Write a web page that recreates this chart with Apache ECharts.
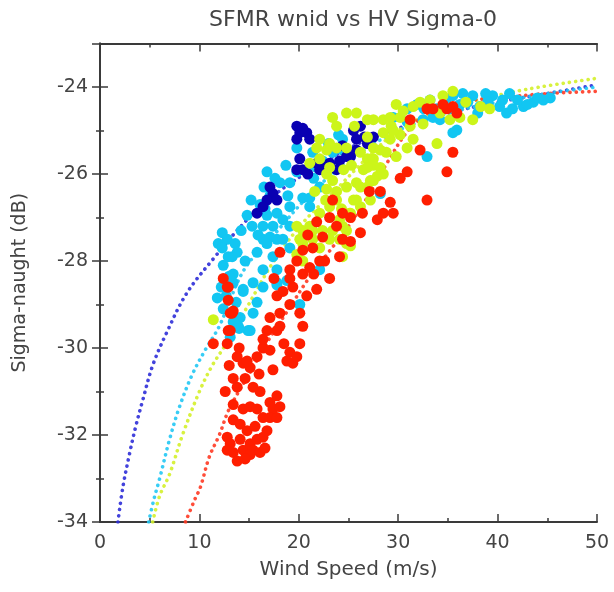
<!DOCTYPE html>
<html><head><meta charset="utf-8">
<script src="https://cdn.jsdelivr.net/npm/echarts@6/dist/echarts.min.js"></script>
<style>html,body{margin:0;padding:0;background:#fff}#c{width:614px;height:592px}</style>
</head><body><div id="c"></div>
<script>
var titleText = 'SFMR wnid vs HV Sigma-0';
var xName = 'Wind Speed (m/s)';
var yName = 'Sigma-naught (dB)';

// Model curves: [wind speed, sigma0]
var blueCurve = [[1.8,-34],[2.3,-33.2],[3.0,-32.4],[3.6,-31.8],[4.3,-31.2],[5.3,-30.4],[6.7,-29.65],[8.7,-28.75],[11.4,-27.95],[14.8,-27.05],[18,-26.4],[22,-25.8],[26,-25.3],[30,-24.95],[35,-24.6],[40,-24.35],[45,-24.15],[50,-23.95]];
var cyanCurve = [[4.9,-34],[5.4,-33.5],[6.0,-33.0],[7.0,-32.1],[8.0,-31.35],[9.3,-30.6],[10.7,-30.0],[12.0,-29.5],[14.5,-28.2],[17.5,-27.4],[21,-26.5],[25,-25.7],[30,-25.0],[35,-24.6],[40,-24.35],[45,-24.15],[50,-24.0]];
var yellowCurve = [[5.3,-34],[6.0,-33.4],[7.0,-32.9],[8.3,-32.0],[10,-31.0],[11.3,-30.4],[12.7,-29.9],[14.7,-29.1],[17.5,-28.0],[20.5,-27.1],[24,-26.3],[27,-25.6],[30,-25.0],[34,-24.55],[38,-24.3],[43,-24.05],[50,-23.8]];
var redCurve = [[8.6,-34],[9.5,-33.5],[10.1,-33.2],[11,-32.5],[12,-32.0],[13,-31.4],[15,-30.6],[17,-29.8],[19,-29.1],[21,-28.4],[23,-27.8],[25,-27.2],[27,-26.5],[29,-25.7],[31,-25.0],[33,-24.6],[36,-24.35],[40,-24.25],[45,-24.15],[50,-24.1]];

// Observations: [wind speed, sigma0]
var navyPts = [[19.8,-24.9],[20.1,-25.05],[20.8,-25.05],[19.8,-25.2],[21.1,-25.2],[20.1,-25.65],[19.8,-25.9],[20.4,-25.9],[20.9,-26.0],[21.8,-25.75],[22.1,-25.9],[23.1,-25.75],[24.1,-25.7],[24.8,-25.6],[25.8,-25.45],[25.5,-25.0],[26.2,-24.9],[25.8,-25.2],[26.9,-25.3],[23.8,-25.9],[17.1,-26.3],[17.4,-26.45],[16.8,-26.6],[15.8,-26.9],[16.4,-26.75],[17.8,-26.6],[27.5,-25.15],[26.6,-25.15],[25.2,-25.6],[24.4,-25.35],[20.4,-24.95],[22.6,-25.85]];

var cyanPts = [[14.8,-26.95],[12.3,-27.35],[12.8,-27.5],[11.9,-27.6],[13.6,-27.6],[13.8,-27.8],[13.3,-27.9],[12.4,-28.1],[13.4,-28.3],[13.4,-28.5],[14.4,-28.65],[11.8,-28.85],[12.4,-29.1],[13.7,-28.95],[14.1,-29.3],[13.4,-29.4],[14.9,-29.6],[13.9,-29.5],[12.7,-28.8],[14.4,-28.7],[15.4,-29.2],[15.8,-28.95],[15.4,-28.5],[17.8,-28.5],[14.0,-29.55],[15.1,-29.6],[13.1,-29.75],[20.1,-29.0],
[16.8,-25.95],[12.3,-27.7],[16.1,-26.7],[16.6,-26.8],[17.1,-26.5],[18.1,-26.2],[19.1,-26.2],[19.8,-25.95],[20.8,-25.9],[21.8,-25.85],[22.4,-25.7],[23.4,-25.5],[24.4,-25.2],[19.8,-25.4],[21.4,-25.5],[16.4,-27.2],[16.8,-26.95],[17.4,-27.2],[17.8,-26.9],[16.4,-27.5],[17.1,-27.45],[17.8,-27.5],[18.4,-27.05],[19.1,-26.75],[18.4,-27.5],[19.1,-27.2],[19.1,-27.7],[16.8,-27.6],[15.8,-27.8],[17.4,-27.9],[16.4,-28.2],[17.8,-28.2],[20.4,-26.55],[21.1,-26.55],[22.1,-26.3],[21.1,-26.75],[17.8,-28.55],[16.4,-28.6],[18.8,-28.45],[22.1,-28.2],
[12.9,-27.9],[14.2,-27.3],[15.3,-27.2],[14.6,-28.0],[15.9,-27.4],[16.5,-26.3],[15.2,-26.6],[18.7,-25.8],[17.6,-26.1],[13.0,-28.35],[12.2,-28.6],[18.9,-26.5],[21.5,-26.1],[23.0,-25.3],[24.0,-25.1],
[29.5,-24.7],[30.9,-24.5],[31.9,-24.4],[33.2,-24.3],[33.9,-24.5],[34.2,-24.75],[35.2,-24.5],[35.9,-24.99],[35.5,-25.05],[36.5,-24.15],[36.2,-24.4],[37.5,-24.2],[38.2,-24.45],[39.5,-24.2],[40.2,-24.45],[40.9,-24.6],[41.5,-24.5],[42.6,-24.45],[43.6,-24.35],[44.6,-24.3],[45.3,-24.25],[41.2,-24.15],[38.8,-24.15],[35.5,-24.2],[32.6,-24.5],[32.5,-24.75],[33.5,-24.7],[30.9,-24.8],[24.4,-25.45],[32.9,-25.6],[28.2,-26.45],[42.0,-24.3],[39.0,-24.35],[44.0,-24.25],[38.0,-24.6],[40.5,-24.3],[43.0,-24.4],[37.0,-24.35],[34.8,-24.35]];

var yellowPts = [[24.8,-24.6],[25.8,-24.6],[26.9,-24.75],[23.8,-24.9],[21.8,-25.4],[22.8,-25.45],[23.8,-25.4],[24.8,-25.4],[21.1,-25.75],[26.9,-25.15],[27.5,-25.4],[22.8,-26.0],[23.4,-26.15],[22.8,-26.35],[23.8,-26.4],[24.8,-26.3],[25.8,-26.2],[26.5,-25.9],[26.9,-25.65],[27.5,-25.8],[25.5,-26.6],[26.2,-26.75],[27.2,-26.6],[22.1,-26.9],[23.1,-26.75],[24.1,-27.05],[25.1,-26.9],[21.4,-27.3],[20.4,-27.3],[20.1,-27.5],[21.4,-27.5],[22.4,-27.3],[23.4,-27.3],[24.8,-27.3],[26.9,-26.3],[27.9,-26.05],
[22.1,-25.2],[23.1,-25.3],[22.1,-25.65],[23.1,-25.85],[23.8,-26.6],[20.4,-27.6],[21.1,-27.2],[19.8,-27.2],[20.4,-28.0],[19.8,-27.85],[22.1,-27.7],[23.1,-27.5],
[28.8,-25.5],[29.3,-24.9],[30.2,-25.1],[31.2,-24.9],[31.5,-25.2],[29.8,-25.6],[28.5,-26.0],[26.2,-25.5],[25.3,-25.8],[24.5,-25.9],[25.6,-24.9],[24.3,-26.8],[22.7,-26.6],[21.6,-26.4],[23.4,-24.7],[29.8,-24.4],[36.8,-24.35],[38.3,-24.45],
[27.5,-24.75],[28.5,-24.75],[29.2,-24.7],[30.2,-24.7],[30.5,-24.55],[32.2,-24.35],[31.5,-24.45],[33.2,-24.3],[34.5,-24.2],[35.5,-24.1],[32.5,-24.85],[34.2,-24.6],[35.2,-24.75],[36.2,-24.7],[37.5,-24.75],[39.2,-24.5],[33.9,-25.3],[30.9,-25.4],[28.5,-25.05],[29.2,-25.2],[28.2,-25.45],[27.5,-25.65],[26.9,-25.85],[27.2,-26.15],[26.2,-26.3],[25.8,-26.6],[25.2,-26.9],[24.4,-27.2],[24.1,-27.5],[24.8,-27.6],[24.4,-27.9],[28.2,-25.85],[27.5,-26.15],[25.2,-27.65],[11.4,-29.35],[29.5,-25.0]];

var redPts = [[11.4,-29.9],[12.8,-29.9],[13.1,-29.6],[13.1,-29.2],[13.4,-29.15],[12.8,-28.6],[13.8,-30.2],[14.4,-30.35],[15.1,-30.45],[14.8,-30.3],[15.8,-30.2],[13.4,-30.7],[13.8,-30.9],[13.4,-31.3],[14.4,-31.4],[13.4,-31.65],[14.1,-31.75],[15.1,-31.35],[15.8,-31.4],[16.1,-31.0],[17.1,-31.25],[17.8,-31.1],[17.4,-31.4],[18.1,-31.35],[16.4,-31.6],[17.1,-31.6],[17.8,-31.6],[12.8,-32.05],[13.1,-32.2],[12.8,-32.35],[13.4,-32.4],[14.4,-32.35],[15.1,-32.2],[15.4,-32.35],[15.8,-32.1],[16.1,-32.4],[16.4,-32.05],[15.1,-32.45],[14.1,-32.1],
[14.0,-30.0],[14.6,-30.7],[15.4,-30.9],[16.0,-30.6],[13.0,-30.4],[14.8,-31.9],[16.8,-31.9],[15.6,-31.8],[13.8,-32.6],[16.6,-32.3],[14.6,-32.55],[12.6,-31.0],
[17.4,-30.5],[16.4,-30.0],[17.1,-30.05],[16.4,-29.8],[16.8,-29.6],[17.8,-29.6],[17.1,-29.3],[18.1,-29.5],[19.1,-30.1],[18.8,-30.3],[19.4,-30.35],[19.8,-30.2],[20.1,-29.9],[20.4,-29.5],[20.1,-29.2],[18.1,-29.2],[19.1,-29.0],[17.8,-28.8],[18.4,-28.7],[19.4,-28.6],[20.8,-28.8],[21.8,-28.65],[23.1,-28.4],[19.1,-28.4],[18.5,-29.9],[17.5,-28.4],[21.5,-28.3],[22.6,-28.0],
[12.4,-28.4],[12.9,-28.6],[12.9,-28.9],[13.3,-29.2],[12.9,-29.6],
[18.1,-27.8],[19.8,-28.0],[19.1,-28.2],[20.4,-27.75],[21.4,-27.7],[22.1,-28.0],[22.4,-27.45],[23.1,-27.0],[23.8,-27.2],[24.4,-26.9],[20.4,-28.3],[21.1,-28.15],[20.9,-27.4],[21.8,-27.1],[23.4,-26.6],
[25.2,-27.0],[24.4,-27.5],[26.2,-27.35],[25.2,-27.55],[24.1,-27.9],[28.2,-26.4],[27.9,-27.05],[28.5,-26.9],[29.5,-26.9],[29.2,-26.65],[30.2,-26.1],[30.9,-25.95],[32.2,-25.45],[32.9,-26.6],[34.9,-25.95],[35.5,-25.5],[31.2,-24.75],[32.9,-24.5],[33.5,-24.5],[34.9,-24.5],[35.5,-24.45],[35.9,-24.6],[34.5,-24.4],[26.4,-26.9],[27.1,-26.4]];

var FONT = 'DejaVu Sans';
var chart = echarts.init(document.getElementById('c'), null, {renderer: 'canvas'});

function curve(data, color) {
  return {type: 'line', data: data, xAxisIndex: 0, yAxisIndex: 0, smooth: 0.35, symbol: 'none', silent: true, z: 1,
    lineStyle: {color: color, width: 3.6, type: [0.1, 6.2], cap: 'round', opacity: 0.9}};
}
function pts(data, color) {
  return {type: 'scatter', data: data, xAxisIndex: 0, yAxisIndex: 0, symbol: 'circle', symbolSize: 11, z: 3,
    itemStyle: {color: color, opacity: 1}};
}
var axisLine = {show: true, lineStyle: {color: '#3a3a3a', width: 2}};
var common = {
  axisTick: {show: true, inside: true, length: 8, lineStyle: {color: '#3a3a3a', width: 1.5}},
  minorTick: {show: true, splitNumber: 2, length: 4, lineStyle: {color: '#3a3a3a', width: 1.5}},
  splitLine: {show: false}, minorSplitLine: {show: false}
};
var option = {
  animation: false,
  backgroundColor: '#ffffff',
  title: {text: titleText, left: 348, top: 4, textAlign: 'center',
    textStyle: {fontFamily: FONT, fontSize: 22, fontWeight: 'normal', color: '#444'}},
  grid: {left: 100, right: 17, top: 43.5, bottom: 70},
  xAxis: [
    Object.assign({type: 'value', min: 0, max: 50, interval: 10, position: 'bottom',
      name: xName, nameLocation: 'middle', nameGap: 38,
      nameTextStyle: {fontFamily: FONT, fontSize: 20, color: '#444'},
      axisLine: axisLine,
      axisLabel: {fontFamily: FONT, fontSize: 19, color: '#444', margin: 12}}, common),
    Object.assign({type: 'value', min: 0, max: 50, interval: 10, position: 'top',
      axisLine: axisLine, axisLabel: {show: false}}, common)
  ],
  yAxis: [
    Object.assign({type: 'value', min: -34, max: -23, interval: 2, position: 'left',
      name: yName, nameLocation: 'middle', nameGap: 70, nameRotate: 90,
      nameTextStyle: {fontFamily: FONT, fontSize: 19, color: '#444'},
      axisLine: axisLine,
      axisLabel: {fontFamily: FONT, fontSize: 19, color: '#444', margin: 12,
        formatter: function (v) { return v <= -24 ? String(v) : ''; }}}, common),
    Object.assign({type: 'value', min: -34, max: -23, interval: 2, position: 'right',
      axisLine: axisLine, axisLabel: {show: false}}, common)
  ],
  series: [
    curve(blueCurve, '#2f2fd8'),
    curve(cyanCurve, '#22c8f4'),
    curve(yellowCurve, '#d4ef2a'),
    curve(redCurve, '#ff3a24'),
    pts(cyanPts, '#12c6f2'),
    pts(navyPts, '#0a00b2'),
    pts(yellowPts, '#ccf51a'),
    pts(redPts, '#ff1e00')
  ]
};
chart.setOption(option);
</script>
</body></html>
